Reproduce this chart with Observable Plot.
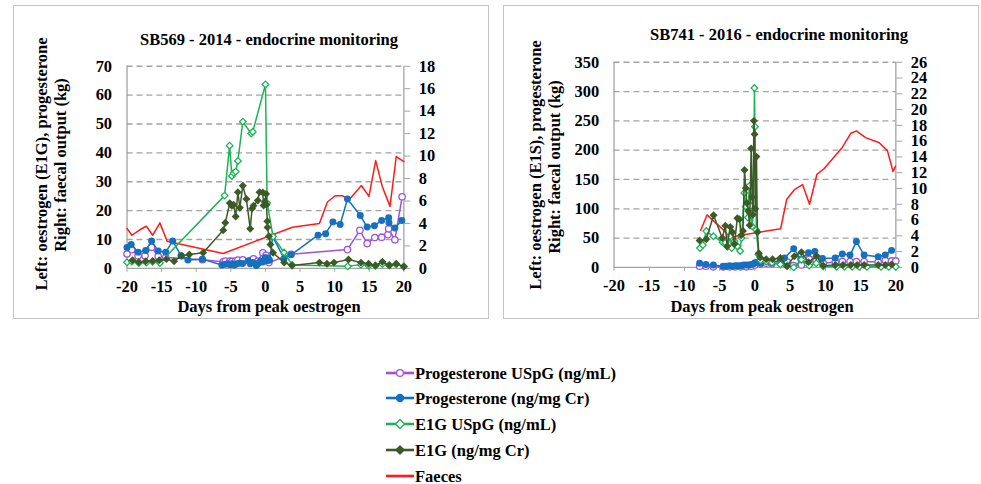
<!DOCTYPE html>
<html><head><meta charset="utf-8">
<script src="https://cdn.jsdelivr.net/npm/d3@7"></script>
<script src="https://cdn.jsdelivr.net/npm/@observablehq/plot@0.6"></script>
<style>
body{margin:0;background:#fff;}
#root{position:relative;width:981px;height:484px;overflow:hidden;}
.panel{position:absolute;border:1px solid #c4c4c4;box-sizing:border-box;}
.panel svg{position:absolute;left:-1px;top:-1px;}
#overlay{position:absolute;left:0;top:0;}
</style></head><body><div id="root"></div>
<script>
// ---------- tick labels ----------
const xTicks = [-20, -15, -10, -5, 0, 5, 10, 15, 20];
const leftYTicks = [0, 10, 20, 30, 40, 50, 60, 70];
const leftKgTicks = [0, 2, 4, 6, 8, 10, 12, 14, 16, 18];
const rightYTicks = [0, 50, 100, 150, 200, 250, 300, 350];
const rightKgTicks = [0, 2, 4, 6, 8, 10, 12, 14, 16, 18, 20, 22, 24, 26];

const seriesNames = ["Progesterone USpG (ng/mL)", "Progesterone (ng/mg Cr)", "E1G USpG (ng/mL)", "E1G (ng/mg Cr)", "Faeces"];

// ---------- SB569 - 2014 ----------
const a_progUSpG_day = [-20, -19.3, -18.4, -17.4, -16.45, -15.5, -14.4, -9.1, -6.1, -5.8, -5.15, -4.85, -4.3, -3.98, -3.27, -2.2, -1.93, -1.73, -1.1, -0.38, 0.1, 0.5, 3.7, 11.85, 13.65, 14.7, 15.8, 16.8, 17.7, 17.8, 18.7, 19.75];
const a_progUSpG_val = [5.0, 6.5, 4.4, 4.4, 7.3, 4.2, 3.8, 3.0, 2.3, 2.5, 2.5, 2.4, 2.6, 2.9, 3.0, 2.7, 2.5, 3.3, 2.5, 5.4, 4.5, 2.0, 4.9, 6.5, 13.2, 8.6, 10.7, 10.8, 11.7, 13.7, 9.9, 24.8];

const a_prog_day = [-20, -19.4, -18.4, -17.3, -16.45, -15.5, -14.4, -13.4, -12.2, -11.2, -9.1, -6.3, -5.8, -5.4, -5.1, -4.8, -4.5, -4.2, -3.8, -3.3, -2.5, -2.2, -1.8, -1.3, -1.0, -0.7, -0.4, -0.1, 0, 0.2, 0.4, 0.6, 1.05, 2.7, 3.7, 7.6, 8.7, 9.75, 10.8, 11.85, 13.7, 14.7, 15.75, 16.8, 17.8, 17.85, 18.7, 19.7];
const a_prog_val = [7.2, 8.3, 5.6, 6.2, 9.5, 6.0, 5.6, 9.5, 4.4, 2.9, 3.2, 1.2, 1.4, 1.6, 1.3, 1.6, 1.2, 1.5, 1.8, 1.7, 2.6, 1.6, 2.0, 1.0, 1.8, 2.6, 2.2, 3.0, 3.8, 2.6, 3.5, 2.8, 11.0, 3.4, 4.7, 11.5, 12.0, 16.1, 15.2, 24.0, 18.3, 14.3, 14.8, 16.6, 17.5, 15.8, 14.0, 16.6];

const a_e1gUSpG_day = [-20, -19.3, -18.3, -17.2, -16.3, -15.25, -5.9, -5.18, -4.85, -4.6, -4.3, -3.98, -3.27, -2.06, -1.83, 0, 0.25, 1.1, 2.7, 3.85, 11.9, 13.8, 14.9, 15.9, 16.9, 17.9, 18.9, 20];
const a_e1gUSpG_val = [2.1, 2.4, 1.9, 2.0, 2.3, 1.9, 25.2, 42.5, 32.0, 33.0, 33.5, 37.2, 50.8, 46.7, 47.3, 63.7, 22.6, 11.0, 5.5, 1.2, 0.7, 1.3, 0.9, 0.9, 1.5, 1.2, 1.4, 0.7];

const a_e1g_day = [-19.2, -18.3, -17.3, -16.3, -15.35, -14.3, -13.2, -12.1, -11.0, -9.0, -6.1, -5.8, -5.15, -4.85, -4.6, -4.3, -3.98, -3.7, -3.27, -2.75, -2.2, -1.93, -1.73, -1.1, -0.86, -0.38, -0.27, -0.1, 0.1, 0.15, 0.27, 0.3, 0.5, 0.72, 1.1, 2.7, 3.85, 7.8, 8.9, 9.9, 12.0, 13.8, 14.9, 15.9, 16.9, 17.9, 18.9, 20];
const a_e1g_val = [2.8, 2.2, 2.5, 2.6, 2.8, 3.2, 2.5, 4.4, 4.8, 5.4, 13.2, 15.8, 22.6, 21.7, 22.0, 18.0, 26.4, 21.0, 28.6, 24.0, 13.7, 20.7, 21.7, 23.5, 26.4, 26.3, 21.8, 23.0, 25.8, 22.0, 16.3, 14.2, 11.1, 8.3, 5.4, 2.0, 1.0, 2.0, 1.6, 2.0, 3.1, 2.0, 1.6, 1.0, 2.3, 1.0, 1.6, 0.6];

const a_faeces_day = [-20, -19.3, -18.1, -17.2, -16.3, -15.25, -14.2, -6.1, 3.9, 7.8, 8.95, 10.07, 11.1, 12.1, 13.86, 14.96, 15.93, 16.88, 18.0, 18.9, 20];
const a_faeces_kg = [3.55, 2.95, 3.46, 3.75, 2.95, 4.05, 2.42, 1.33, 3.66, 3.99, 5.91, 6.47, 6.47, 6.12, 7.38, 6.41, 9.6, 7.3, 5.52, 9.96, 9.51];

// ---------- SB741 - 2016 ----------
const b_progUSpG_day = [-7.85, -6.95, -5.9, -4.5, -3.6, -2.8, -2.0, -1.2, -0.5, 0, 0.8, 1.6, 2.4, 3.6, 4.6, 5.5, 6.6, 7.7, 8.7, 9.7, 11.4, 12.4, 13.5, 14.4, 15.5, 17.5, 18.5, 19.4, 20];
const b_progUSpG_val = [2, 2, 1, 1, 1, 1, 1, 1, 2, 4, 6, 7, 6, 8, 9, 3, 4, 14, 11, 7, 9, 10, 10, 10, 10, 9, 12, 11, 11];

const b_prog_day = [-7.85, -6.95, -5.9, -4.5, -4.1, -3.6, -3.2, -2.8, -2.4, -2.0, -1.6, -1.2, -0.8, -0.5, -0.2, 0, 0.3, 0.8, 1.6, 2.4, 3.6, 4.2, 5.5, 6.5, 7.6, 8.5, 9.6, 11.4, 12.4, 13.5, 14.4, 15.5, 17.5, 18.5, 19.4];
const b_prog_val = [7, 5, 4, 2, 2, 3, 2, 3, 3, 3, 4, 4, 4, 5, 6, 8, 9, 7, 10, 8, 12, 16, 32, 14, 25, 27, 15, 16, 23, 21, 44, 21, 18, 21, 29];

const b_e1sUSpG_day = [-7.8, -7.4, -6.9, -5.9, -4.6, -4.2, -3.9, -3.5, -3.3, -2.9, -2.5, -2.1, -1.9, -1.5, -1.3, -1.0, -0.8, -0.6, -0.4, -0.2, -0.07, 0, 0.2, 0.5, 0.8, 1.6, 2.4, 3.6, 4.6, 5.5, 6.6, 7.7, 8.7, 9.7, 11.6, 12.7, 13.8, 14.8, 15.9, 17.9, 19, 20];
const b_e1sUSpG_val = [33, 38, 62, 53, 43, 42, 35, 53, 33, 45, 36, 28, 50, 127, 104, 85, 139, 105, 70, 95, 306, 240, 64, 22, 12, 10, 8, 5, 3, 0, 13, 3, 7, 2, 1, 1, 1, 1, 1, 1, 1, 1];

const b_e1s_day = [-7.85, -6.9, -5.87, -4.64, -4.2, -3.95, -3.5, -3.2, -2.9, -2.5, -2.2, -1.95, -1.7, -1.48, -1.3, -1.15, -0.95, -0.75, -0.54, -0.4, -0.28, -0.15, -0.05, 0.05, 0.22, 0.35, 0.55, 0.75, 1.6, 2.5, 3.6, 4.55, 5.6, 6.6, 7.6, 8.7, 9.7, 11.4, 12.5, 13.6, 14.5, 15.5, 17.5, 18.5, 19.4];
const b_e1s_val = [46, 48, 89, 50, 71, 36, 69, 60, 40, 84, 82, 55, 62, 166, 135, 110, 96, 72, 203, 120, 90, 250, 227, 100, 189, 60, 24, 17, 14, 14, 16, 2, 19, 26, 9, 19, 3, 4, 4, 4, 4, 4, 4, 4, 5];

const b_faeces_day = [-7.7, -6.8, -4.3, -3.5, -2.45, 3.65, 4.5, 5.65, 6.76, 7.75, 8.8, 9.8, 12.4, 13.6, 14.4, 15.7, 17.65, 18.8, 19.6, 19.95];
const b_faeces_kg = [4.7, 6.65, 4.6, 3.7, 4.0, 4.9, 8.6, 9.9, 10.5, 8.0, 11.8, 12.5, 15.2, 17.0, 17.3, 16.45, 15.8, 14.8, 12.15, 12.8];

// ---------- styles ----------
const COLORS = ["#9f52d9", "#1570c0", "#1cb257", "#3b5a26", "#ff1a1a"];
const FONT = "'Liberation Serif','Times New Roman',serif";
const GRID = "#a3a3a3";

function pts(days, vals, f = 1) { return days.map((d, i) => ({x: d, y: vals[i] * f})); }

function seriesMarks(p, f) {
  const [pu, bl, lg, dg, rd] = p;
  return [
    Plot.line(pts(rd[0], rd[1], f), {x: "x", y: "y", stroke: COLORS[4], strokeWidth: 1.5}),
    Plot.line(pts(pu[0], pu[1]), {x: "x", y: "y", stroke: COLORS[0], strokeWidth: 1.5}),
    Plot.dot(pts(pu[0], pu[1]), {x: "x", y: "y", r: 3.2, fill: "white", stroke: COLORS[0], strokeWidth: 1.3}),
    Plot.line(pts(bl[0], bl[1]), {x: "x", y: "y", stroke: COLORS[1], strokeWidth: 1.5}),
    Plot.dot(pts(bl[0], bl[1]), {x: "x", y: "y", r: 3.5, fill: COLORS[1]}),
    Plot.line(pts(lg[0], lg[1]), {x: "x", y: "y", stroke: COLORS[2], strokeWidth: 1.5}),
    Plot.dot(pts(lg[0], lg[1]), {x: "x", y: "y", r: 3, symbol: "diamond2", fill: "white", stroke: COLORS[2], strokeWidth: 1.3}),
    Plot.line(pts(dg[0], dg[1]), {x: "x", y: "y", stroke: COLORS[3], strokeWidth: 1.5}),
    Plot.dot(pts(dg[0], dg[1]), {x: "x", y: "y", r: 3.6, symbol: "diamond2", fill: COLORS[3]})
  ];
}

function makePanel(cfg) {
  const f = cfg.yMax / cfg.kgMax;
  const yTicks = cfg.yTicks;
  const chart = Plot.plot({
    width: cfg.width, height: cfg.height,
    marginTop: cfg.m[0], marginRight: cfg.m[1], marginBottom: cfg.m[2], marginLeft: cfg.m[3],
    x: {domain: [-20, 20]},
    y: {domain: [0, cfg.yMax]},
    style: {fontFamily: FONT, fontSize: "16.5px", fontWeight: "bold", color: "black", background: "transparent", overflow: "visible"},
    marks: [
      Plot.gridY(yTicks.slice(1), {stroke: GRID, strokeOpacity: 1, strokeWidth: 1.3, strokeDasharray: "6,4"}),
      Plot.ruleY([0], {stroke: GRID, strokeWidth: 1.3}),
      Plot.ruleX([-20], {stroke: GRID, strokeWidth: 1.3}),
      Plot.ruleX([20], {stroke: GRID, strokeWidth: 1.3}),
      Plot.axisX({ticks: xTicks, tickFormat: d => String(d), tickSize: 4, tickPadding: 8, stroke: GRID, fill: "black", label: null}),
      Plot.axisY({anchor: "left", ticks: yTicks, tickFormat: d => String(d), tickSize: 0, tickPadding: 15, fill: "black", label: null}),
      Plot.axisY({anchor: "right", ticks: cfg.kgTicks.map(k => k * f), tickFormat: d => String(Math.round(d / f)), tickSize: 6, tickPadding: 9, stroke: GRID, fill: "black", label: null}),
      ...seriesMarks(cfg.series, f)
    ]
  });
  const div = document.createElement("div");
  div.className = "panel";
  Object.assign(div.style, {left: cfg.left + "px", top: cfg.top + "px", width: cfg.width + "px", height: cfg.height + "px"});
  div.appendChild(chart);
  document.getElementById("root").appendChild(div);
}

makePanel({
  left: 13, top: 5, width: 476, height: 314, m: [61, 84, 50, 114],
  yMax: 70, kgMax: 18, yTicks: leftYTicks, kgTicks: leftKgTicks,
  series: [[a_progUSpG_day, a_progUSpG_val], [a_prog_day, a_prog_val], [a_e1gUSpG_day, a_e1gUSpG_val], [a_e1g_day, a_e1g_val], [a_faeces_day, a_faeces_kg]]
});
makePanel({
  left: 503, top: 5, width: 476, height: 314, m: [57, 82, 51, 111],
  yMax: 350, kgMax: 26, yTicks: rightYTicks, kgTicks: rightKgTicks,
  series: [[b_progUSpG_day, b_progUSpG_val], [b_prog_day, b_prog_val], [b_e1sUSpG_day, b_e1sUSpG_val], [b_e1s_day, b_e1s_val], [b_faeces_day, b_faeces_kg]]
});

// ---------- text overlay: titles, axis titles, legend ----------
const svg = d3.select("#root").append("svg").attr("id", "overlay").attr("width", 981).attr("height", 484)
  .style("font-family", FONT).style("font-weight", "bold").style("font-size", "16.5px");
const T = (x, y, s, anchor = "middle", rot = 0) => svg.append("text")
  .attr("transform", `translate(${x},${y})` + (rot ? ` rotate(${rot})` : ""))
  .attr("text-anchor", anchor).attr("fill", "black").text(s);

T(269, 45, "SB569 - 2014 - endocrine monitoring");
T(779, 40, "SB741 - 2016 - endocrine monitoring");
T(269, 312, "Days from peak oestrogen");
T(762, 312, "Days from peak oestrogen");
T(47, 164, "Left: oestrogen (E1G), progesterone", "middle", -90);
T(66, 165, "Right: faecal output (kg)", "middle", -90);
T(541, 165, "Left: oestrogen (E1S), progesterone", "middle", -90);
T(560, 167, "Right: faecal output (kg)", "middle", -90);

const legY = [373, 398, 424, 450, 476];
seriesNames.forEach((name, i) => {
  const y = legY[i];
  svg.append("line").attr("x1", 386).attr("x2", 414).attr("y1", y).attr("y2", y).attr("stroke", COLORS[i]).attr("stroke-width", 2.6);
  if (i === 0) svg.append("circle").attr("cx", 400).attr("cy", y).attr("r", 3.4).attr("fill", "white").attr("stroke", COLORS[0]).attr("stroke-width", 1.3);
  if (i === 1) svg.append("circle").attr("cx", 400).attr("cy", y).attr("r", 4.2).attr("fill", COLORS[1]);
  if (i === 2) svg.append("path").attr("d", `M400,${y-4.5}L404.5,${y}L400,${y+4.5}L395.5,${y}Z`).attr("fill", "white").attr("stroke", COLORS[2]).attr("stroke-width", 1.3);
  if (i === 3) svg.append("path").attr("d", `M400,${y-5}L405,${y}L400,${y+5}L395,${y}Z`).attr("fill", COLORS[3]);
  T(415, y + 5.5, name, "start");
});
</script>
</body></html>
